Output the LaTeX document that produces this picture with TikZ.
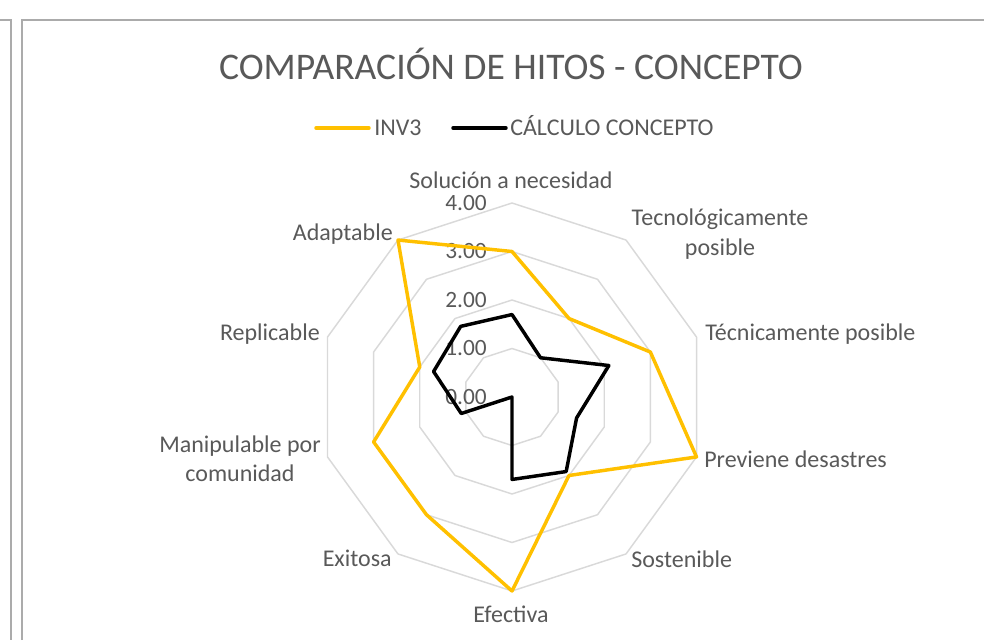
\documentclass[tikz,border=0pt]{standalone}
\usepackage{fontspec}
\setmainfont{Carlito}
\usetikzlibrary{calc}
\definecolor{txt}{HTML}{595959}
\definecolor{gridc}{HTML}{D9D9D9}
\definecolor{inv}{HTML}{FFC000}
\definecolor{framec}{HTML}{ABABAB}
\tikzset{
  gridline/.style={draw=gridc, line width=1.1pt, line join=round},
  invline/.style={draw=inv, line width=2.6pt, line join=round, line cap=round},
  calcline/.style={draw=black, line width=2.6pt, line join=round, line cap=round},
  lab/.style={text=txt, font=\fontsize{18}{22}\selectfont, inner sep=0pt},
  legtext/.style={lab, anchor=west, text height=12pt, text depth=0pt},
  tick/.style={text=txt, font=\fontsize{17.5}{20}\selectfont, inner sep=0pt, anchor=east},
  framel/.style={draw=framec, line width=1.6pt}
}
\begin{document}
\begin{tikzpicture}[x=0.75pt,y=0.75pt]
\useasboundingbox (0,0) rectangle (984,640);
\def\R{48.5}
% frames
\coordinate (fa) at (0,620);
\coordinate (fb) at (11,620);
\coordinate (fc) at (11,0);
\coordinate (fd) at (22,0);
\coordinate (fe) at (22,620);
\coordinate (ff) at (984,620);
\draw[framel] (fa) -- (fb) -- (fc);
\draw[framel] (fd) -- (fe) -- (ff);
% center
\coordinate (O) at (512,243);
% rings
\foreach \v in {1,2,3,4}{
  \draw[gridline] ($(O)+(90:\v*\R)$)
    \foreach \k in {1,...,9}{ -- ($(O)+(90-36*\k:\v*\R)$) } -- cycle;
}
% tick labels
\foreach \v in {0,1,2,3,4}{
  \node[tick] (t\v) at ($(O)+(-25,\v*\R)$) {\v.00};
}
% data points
\foreach \v [count=\i from 0] in {3,2,3,4,2,4,3,3,2,4}{
  \coordinate (y\i) at ($(O)+(90-36*\i:\v*\R)$);
}
\foreach \v [count=\i from 0] in {1.7,1.0,2.1,1.4,1.9,1.7,0,1.1,1.7,1.8}{
  \coordinate (b\i) at ($(O)+(90-36*\i:\v*\R)$);
}
\draw[invline] (y0) -- (y1) -- (y2) -- (y3) -- (y4) -- (y5) -- (y6) -- (y7) -- (y8) -- (y9) -- cycle;
\draw[calcline] (b0) -- (b1) -- (b2) -- (b3) -- (b4) -- (b5) -- (b6) -- (b7) -- (b8) -- (b9) -- cycle;
% axis labels
\node[lab] (sol) at (511,460) {Solución a necesidad};
\node[lab, align=center] (tecno) at (720,406) {Tecnológicamente\\posible};
\node[lab, anchor=west] (tecni) at (705,306) {Técnicamente posible};
\node[lab, anchor=west] (prev) at (704,181) {Previene desastres};
\node[lab, anchor=west] (sost) at (631,81) {Sostenible};
\node[lab] (efec) at (511,26) {Efectiva};
\node[lab, anchor=east] (exit) at (392,82) {Exitosa};
\node[lab, align=center] (manip) at (240,181) {Manipulable por\\comunidad};
\node[lab, anchor=east] (repl) at (320,306) {Replicable};
\node[lab, anchor=east] (adapt) at (393,406) {Adaptable};
% title
\node[text=txt, font=\fontsize{28.2}{32}\selectfont, inner sep=0pt] (title) at (511,576) {COMPARACIÓN DE HITOS - CONCEPTO};
% legend
\coordinate (l1a) at (316,512);
\coordinate (l1b) at (369,512);
\coordinate (l2a) at (453,512);
\coordinate (l2b) at (506,512);
\draw[invline] (l1a) -- (l1b);
\draw[calcline] (l2a) -- (l2b);
\node[legtext] (leg1) at (374,512) {INV3};
\node[legtext] (leg2) at (510,512) {CÁLCULO CONCEPTO};
\end{tikzpicture}
\end{document}
